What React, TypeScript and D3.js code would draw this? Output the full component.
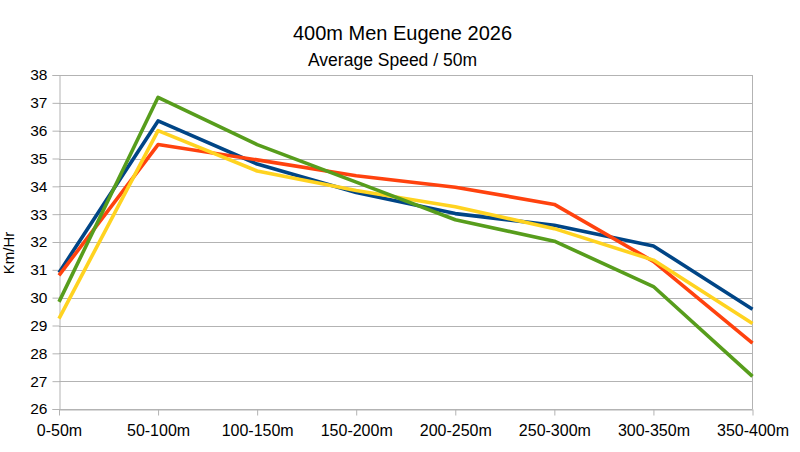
import React, { useEffect, useRef } from 'react';
import * as d3 from 'd3';

// Split names along the x axis
const splits = ['0-50m', '50-100m', '100-150m', '150-200m', '200-250m', '250-300m', '300-350m', '350-400m'];

// Average speed (km/h) per 50m split, one array per athlete
const blueSpeeds = [30.9, 36.35, 34.8, 33.78, 33.02, 32.6, 31.86, 29.58];
const orangeSpeeds = [30.8, 35.5, 34.95, 34.38, 33.97, 33.35, 31.3, 28.37];
const yellowSpeeds = [29.25, 36.0, 34.55, 33.85, 33.27, 32.48, 31.35, 29.07];
const greenSpeeds = [29.85, 37.2, 35.5, 34.15, 32.8, 32.03, 30.4, 27.17];

const yTicks = [26, 27, 28, 29, 30, 31, 32, 33, 34, 35, 36, 37, 38];

const series = [
  { values: blueSpeeds, color: '#004586' },
  { values: orangeSpeeds, color: '#ff420e' },
  { values: yellowSpeeds, color: '#ffd320' },
  { values: greenSpeeds, color: '#579d1c' },
];

const SpeedChart: React.FC = () => {
  const svgRef = useRef<SVGSVGElement | null>(null);

  useEffect(() => {
    const svg = d3.select(svgRef.current);
    svg.selectAll('*').remove();

    const width = 800;
    const height = 452;
    const plot = { left: 59, right: 752.5, top: 75, bottom: 409 };
    const font = '"Liberation Sans", Arial, sans-serif';
    const gridColor = '#b3b3b3';

    svg.append('rect').attr('width', width).attr('height', height).attr('fill', '#ffffff');

    const x = d3.scalePoint<string>().domain(splits).range([plot.left, plot.right]);
    const y = d3.scaleLinear().domain([26, 38]).range([plot.bottom, plot.top]);

    // horizontal grid lines
    svg
      .append('g')
      .selectAll('line')
      .data(yTicks)
      .join('line')
      .attr('x1', plot.left)
      .attr('x2', plot.right)
      .attr('y1', d => Math.round(y(d)) + 0.5)
      .attr('y2', d => Math.round(y(d)) + 0.5)
      .attr('stroke', gridColor)
      .attr('stroke-width', 1);

    // right border of the plot area
    svg
      .append('line')
      .attr('x1', plot.right)
      .attr('x2', plot.right)
      .attr('y1', plot.top)
      .attr('y2', plot.bottom)
      .attr('stroke', gridColor);

    // y axis
    const yAxis = svg
      .append('g')
      .attr('transform', `translate(${plot.left + 0.5},0)`)
      .call(d3.axisLeft(y).tickValues(yTicks).tickSize(7).tickPadding(5).tickFormat(d3.format('d')));
    yAxis.select('.domain').attr('stroke', gridColor);
    yAxis.selectAll('.tick line').attr('stroke', gridColor);
    yAxis
      .selectAll('.tick text')
      .attr('fill', '#000')
      .attr('font-family', font)
      .attr('font-size', 15.5);

    // x axis
    const xAxis = svg
      .append('g')
      .attr('transform', `translate(0,${Math.round(plot.bottom) + 0.5})`)
      .call(d3.axisBottom(x).tickSize(6).tickPadding(9).tickSizeOuter(0));
    xAxis.select('.domain').attr('stroke', gridColor);
    xAxis.selectAll('.tick line').attr('stroke', gridColor);
    xAxis
      .selectAll('.tick text')
      .attr('fill', '#000')
      .attr('font-family', font)
      .attr('font-size', 16);

    // lines
    const line = d3
      .line<number>()
      .x((_, i) => x(splits[i]) as number)
      .y(d => y(d));

    svg
      .append('g')
      .selectAll('path')
      .data(series)
      .join('path')
      .attr('d', d => line(d.values))
      .attr('fill', 'none')
      .attr('stroke', d => d.color)
      .attr('stroke-width', 3.6)
      .attr('stroke-linejoin', 'round');

    // titles
    svg
      .append('text')
      .attr('x', 402.5)
      .attr('y', 39.5)
      .attr('text-anchor', 'middle')
      .attr('font-family', font)
      .attr('font-size', 20)
      .text('400m Men Eugene 2026');

    svg
      .append('text')
      .attr('x', 392.5)
      .attr('y', 66)
      .attr('text-anchor', 'middle')
      .attr('font-family', font)
      .attr('font-size', 17.5)
      .text('Average Speed / 50m');

    svg
      .append('text')
      .attr('transform', 'translate(13.5,253) rotate(-90)')
      .attr('text-anchor', 'middle')
      .attr('font-family', font)
      .attr('font-size', 15)
      .text('Km/Hr');
  }, []);

  return (
    <svg
      ref={svgRef}
      width={800}
      height={452}
      style={{ position: 'absolute', left: 0, top: 0 }}
    ></svg>
  );
};

export default function App() {
  return <SpeedChart />;
}
